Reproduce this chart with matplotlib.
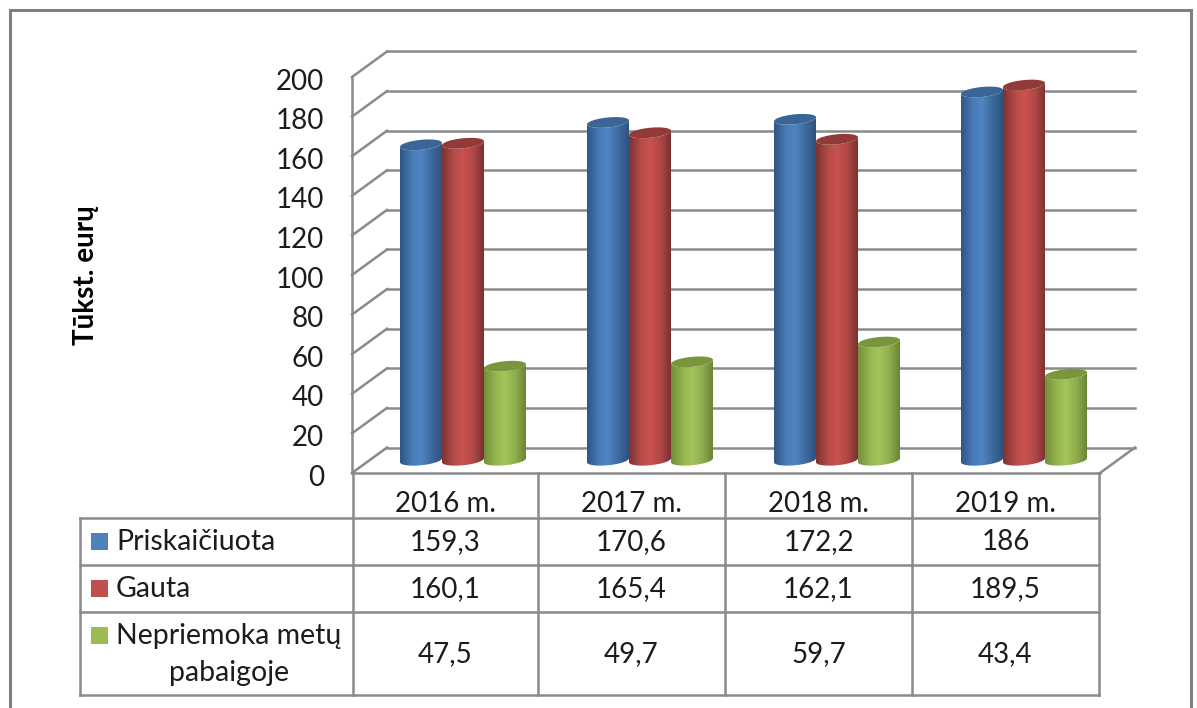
import numpy as np
import matplotlib
matplotlib.use("Agg")
import matplotlib.pyplot as plt
from matplotlib.colors import to_rgb
from matplotlib.patches import PathPatch, Rectangle
from matplotlib.path import Path
from matplotlib.transforms import ScaledTranslation

plt.rcParams['font.family'] = ['Lato', 'Open Sans', 'DejaVu Sans']

years = ["2016 m.", "2017 m.", "2018 m.", "2019 m."]
priskaiciuota = [159.3, 170.6, 172.2, 186]
gauta = [160.1, 165.4, 162.1, 189.5]
nepriemoka = [47.5, 49.7, 59.7, 43.4]
series = [priskaiciuota, gauta, nepriemoka]
y_ticks = [0, 20, 40, 60, 80, 100, 120, 140, 160, 180, 200]

# dark edge, light middle, dark edge, then the cap colour
body_colors = [
    ["#2f5686", "#4a7cb8", "#4f85c4", "#3e6a9f", "#2f5380"],
    ["#7d3331", "#b84c49", "#c9524f", "#b04846", "#7a3230"],
    ["#748f3b", "#95b852", "#a1c65a", "#8fae4e", "#6b8537"],
]
cap_colors = ["#3b6594", "#923a38", "#78963c"]
key_colors = ["#4f81bd", "#c0504d", "#9bbb59"]

GRID = "#8a8a8a"
TEXT = "#1c1c1c"
FONT = 20
KEY_FONT = 20.5

W, H = 1197, 708
fig = plt.figure(figsize=(W / 100, H / 100), dpi=100)

# page sized axes for the frame and the data table, units are pixels
bg = fig.add_axes([0, 0, 1, 1], zorder=0)
bg.set_xlim(0, W)
bg.set_ylim(H, 0)
bg.axis("off")
bg.plot([9.5, 9.5, 1190.5, 1190.5], [H, 9.5, 9.5, H], color="#808080", lw=2.2, solid_joinstyle="miter")

col_edges = [353, 538, 725, 912, 1099]
row_edges = [518, 565, 612, 695]
for x in col_edges:
    bg.plot([x, x], [473, 695], color=GRID, lw=1.8, solid_capstyle="projecting")
bg.plot([80, 80], [518, 695], color=GRID, lw=1.8, solid_capstyle="projecting")
for y in row_edges:
    bg.plot([80, 1099], [y, y], color=GRID, lw=1.8, solid_capstyle="projecting")

row_text_y = [542.5, 589.5, 654.5]
key_y = [541, 588, 635]
for i, name in enumerate(years):
    cx = (col_edges[i] + col_edges[i + 1]) / 2
    bg.text(cx, 504.5, name, ha="center", va="center", fontsize=FONT, color=TEXT)
    for vals, y in zip(series, row_text_y):
        label = f"{vals[i]:g}".replace(".", ",")
        bg.text(cx, y, label, ha="center", va="center", fontsize=FONT, color=TEXT)

for c, y in zip(key_colors, key_y):
    bg.add_patch(Rectangle((91, y - 8), 16.5, 16.5, facecolor=c, edgecolor="none"))
bg.text(116, 542, "Priskaičiuota", va="center", fontsize=KEY_FONT, color=TEXT)
bg.text(116, 589, "Gauta", va="center", fontsize=KEY_FONT, color=TEXT)
bg.text(116, 636, "Nepriemoka metų", va="center", fontsize=KEY_FONT, color=TEXT)
bg.text(229, 673, "pabaigoje", ha="center", va="center", fontsize=KEY_FONT, color=TEXT)
bg.text(86, 275, "Tūkst. eurų", rotation=90, ha="center", va="center", fontsize=FONT, fontweight="bold", color="black")

# chart axes: x is category index, y is the value
cat_px = 187.0
val_px = 1.98
depth_x = 35 / cat_px
depth_y = 25.5 / val_px
x0, x1 = -0.5, 3.5 + depth_x
y0, y1 = 0, 200 + depth_y
ax = fig.add_axes([352 / W, (H - 473) / H, (x1 - x0) * cat_px / W, (y1 - y0) * val_px / H], zorder=1)
ax.patch.set_alpha(0)
for s in ax.spines.values():
    s.set_visible(False)

for t in y_ticks:
    ax.plot([x0 + depth_x, x1], [t + depth_y, t + depth_y], color=GRID, lw=1.8, zorder=1, clip_on=False)
    ax.plot([x0, x0 + depth_x], [t, t + depth_y], color=GRID, lw=1.8, zorder=1, clip_on=False)
ax.plot([x0, x0], [0, 200], color=GRID, lw=1.8, zorder=1, clip_on=False)
ax.plot([x1 - depth_x, x1], [0, depth_y], color=GRID, lw=1.8, zorder=1, clip_on=False)
ax.plot([x0, x1 - depth_x], [0, 0], color=GRID, lw=1.8, zorder=1, clip_on=False)

ax.set_xticks([])
ax.set_yticks(y_ticks)
ax.tick_params(axis="y", length=0, pad=20, labelsize=FONT, labelcolor=TEXT)
# labels sit a little low in the original
shift = ScaledTranslation(0, -1.5 / 72, fig.dpi_scale_trans)
for lbl in ax.get_yticklabels():
    lbl.set_transform(lbl.get_transform() + shift)

# cylinder shape, a tilted ellipse at both ends
half_w = 21 / cat_px
cap_b = 5 / val_px
cap_s = 2 / val_px
t_low = np.linspace(np.pi, 2 * np.pi, 40)
t_all = np.linspace(0, 2 * np.pi, 80)
grad_pos = [0, 0.3, 0.5, 0.75, 1]


def ellipse(cx, cy, t):
    return cx + half_w * np.cos(t), cy + cap_b * np.sin(t) + cap_s * np.cos(t)


def draw_cylinder(cx, value, j, order):
    base = depth_y / 2
    top = base + value
    bx, by = ellipse(cx, base, t_low)
    tx, ty = ellipse(cx, top, t_low[::-1])
    verts = np.column_stack([np.r_[bx, tx], np.r_[by, ty]])
    clip = PathPatch(Path(np.vstack([verts, verts[0]])), transform=ax.transData, facecolor="none", edgecolor="none")
    ax.add_patch(clip)

    rgb = np.array([to_rgb(c) for c in body_colors[j]])
    pos = np.linspace(0, 1, 64)
    strip = np.stack([np.interp(pos, grad_pos, rgb[:, k]) for k in range(3)], axis=1)[None, :, :]
    im = ax.imshow(strip, extent=[cx - half_w, cx + half_w, base - 6, top + 6], aspect="auto", zorder=order, interpolation="bilinear")
    im.set_clip_path(clip)

    cap_x, cap_y = ellipse(cx, top, t_all)
    ax.fill(cap_x, cap_y, color=cap_colors[j], lw=0, zorder=order + 0.1)


order = 2
for i in range(len(years)):
    for j, vals in enumerate(series):
        cx = i + depth_x / 2 + (j - 1) * 2 * half_w
        draw_cylinder(cx, vals[i], j, order)
        order += 1

ax.set_xlim(x0, x1)
ax.set_ylim(y0, y1)

fig.savefig("out.png", dpi=100)
